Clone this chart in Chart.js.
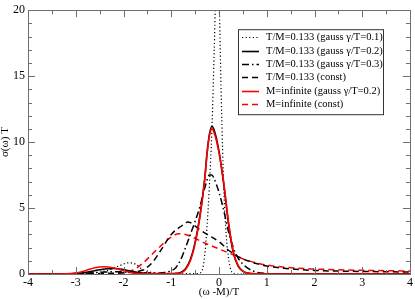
<!DOCTYPE html>
<html>
<head>
<meta charset="utf-8">
<script src="https://cdn.jsdelivr.net/npm/chart.js@4"></script>
<style>
  html, body { margin: 0; padding: 0; background: #fff; }
</style>
</head>
<body>
<canvas id="myChart" width="415" height="299"></canvas>
<script>
"use strict";

// tick labels
const xTicks = [-4, -3, -2, -1, 0, 1, 2, 3, 4];
const yTicks = [0, 5, 10, 15, 20];

const labels = [
  'T/M=0.133 (gauss \u03b3/T=0.1)',
  'T/M=0.133 (gauss \u03b3/T=0.2)',
  'T/M=0.133 (gauss \u03b3/T=0.3)',
  'T/M=0.133 (const)',
  'M=infinite (gauss \u03b3/T=0.2)',
  'M=infinite (const)'
];

// T/M=0.133, gauss gamma/T=0.1
const omegaG01 = [-4, -3, -2.6, -2.3, -2.1, -1.9, -1.75, -1.6, -1.4, -1.2, -0.8, -0.5, -0.4, -0.35, -0.3, -0.25, -0.2, -0.15, -0.1, -0.05, 0, 0.05, 0.1, 0.15, 0.2, 0.25, 0.3, 0.4, 1, 4];
const sigmaG01 = [0, 0.02, 0.1, 0.3, 0.6, 0.85, 0.75, 0.35, 0.1, 0.03, 0.02, 0.03, 0.08, 0.3, 1.4, 3.6, 6.8, 10.8, 17, 23, 21, 13, 6.5, 3, 1.2, 0.3, 0.05, 0, 0, 0];

// T/M=0.133, gauss gamma/T=0.2
const omegaG02 = [-4, -3.2, -3, -2.8, -2.6, -2.4, -2.2, -2, -1.8, -1.6, -1.4, -1.2, -1, -0.9, -0.8, -0.7, -0.6, -0.5, -0.4, -0.3, -0.25, -0.2, -0.15, -0.1, 0, 0.1, 0.2, 0.3, 0.4, 0.5, 0.6, 0.8, 1, 4];
const sigmaG02 = [0, 0.01, 0.04, 0.12, 0.25, 0.38, 0.42, 0.33, 0.18, 0.07, 0.03, 0.02, 0.03, 0.05, 0.12, 0.4, 1.1, 2.4, 4.4, 7.2, 9.2, 10.6, 11.2, 10.9, 9.3, 6.8, 3.8, 1.6, 0.6, 0.2, 0.07, 0.01, 0, 0];

// T/M=0.133, gauss gamma/T=0.3
const omegaG03 = [-4, -3, -2.5, -2.2, -2, -1.6, -1.3, -1.2, -1, -0.9, -0.8, -0.7, -0.6, -0.5, -0.4, -0.3, -0.2, -0.15, -0.1, 0, 0.1, 0.2, 0.3, 0.4, 0.5, 0.6, 0.7, 0.8, 1, 1.5, 4];
const sigmaG03 = [0, 0.03, 0.12, 0.18, 0.15, 0.08, 0.07, 0.09, 0.25, 0.5, 1.1, 2.0, 3.0, 4.0, 5.1, 6.5, 7.5, 7.5, 7.2, 6.2, 4.8, 3.2, 2.0, 1.2, 0.75, 0.45, 0.25, 0.12, 0.04, 0.01, 0];

// T/M=0.133, const
const omegaConst = [-4, -3, -2.5, -2, -1.8, -1.6, -1.4, -1.2, -1, -0.8, -0.65, -0.6, -0.4, -0.2, 0, 0.2, 0.4, 0.6, 0.8, 1, 1.4, 2, 2.5, 3, 3.5, 4];
const sigmaConst = [0, 0.01, 0.03, 0.1, 0.15, 0.3, 0.85, 1.9, 3.0, 3.6, 3.95, 3.9, 3.35, 2.9, 2.45, 1.8, 1.32, 1.0, 0.78, 0.6, 0.42, 0.27, 0.22, 0.19, 0.17, 0.15];

// M=infinite, gauss gamma/T=0.2
const omegaInfG02 = omegaG02;
const sigmaInfG02 = [0, 0.02, 0.08, 0.25, 0.48, 0.55, 0.45, 0.25, 0.08, 0.02, 0.01, 0.01, 0.01, 0.03, 0.08, 0.35, 1.0, 2.3, 4.3, 7.1, 9.1, 10.5, 11.0, 10.7, 9.2, 6.9, 3.9, 1.7, 0.65, 0.22, 0.07, 0.01, 0, 0];

// M=infinite, const
const omegaInfConst = [-4, -2.5, -2.2, -2, -1.8, -1.6, -1.4, -1.2, -1, -0.85, -0.7, -0.5, -0.3, -0.1, 0.1, 0.3, 0.5, 0.7, 1, 1.5, 2, 2.5, 3, 3.5, 4];
const sigmaInfConst = [0, 0.01, 0.04, 0.1, 0.3, 0.8, 1.5, 2.2, 2.8, 3.05, 3.0, 2.7, 2.35, 2.05, 1.75, 1.45, 1.15, 0.92, 0.68, 0.48, 0.38, 0.32, 0.28, 0.25, 0.23];

const pts = (xs, ys) => xs.map((x, i) => ({x: x, y: ys[i]}));

const line = (label, xs, ys, color, dash, width, order) => ({
  label: label,
  data: pts(xs, ys),
  borderColor: color,
  borderDash: dash,
  borderWidth: width,
  pointRadius: 0,
  fill: false,
  cubicInterpolationMode: 'monotone',
  order: order
});

const data = {
  datasets: [
    line(labels[0], omegaG01, sigmaG01, '#000', [1.2, 2.4], 1.2, 1),
    line(labels[1], omegaG02, sigmaG02, '#000', [], 1.6, 1),
    line(labels[2], omegaG03, sigmaG03, '#000', [7, 3, 1.5, 3], 1.5, 1),
    line(labels[3], omegaConst, sigmaConst, '#000', [6, 4], 1.5, 1),
    line(labels[4], omegaInfG02, sigmaInfG02, '#ff0000', [], 1.6, -1),
    line(labels[5], omegaInfConst, sigmaInfConst, '#ff0000', [6, 4], 1.5, 1)
  ]
};

const serif = "'Liberation Serif', 'Times New Roman', serif";
Chart.defaults.font.family = serif;
Chart.defaults.color = '#000';

// frame with inward major/minor ticks on all four sides
const frameTicks = {
  id: 'frameTicks',
  afterDatasetsDraw(chart) {
    const {ctx, chartArea: a, scales: {x, y}} = chart;
    ctx.save();
    ctx.strokeStyle = '#6e6e6e';
    ctx.lineWidth = 1;
    ctx.setLineDash([]);
    ctx.beginPath();
    const xs = [];
    xTicks.forEach((v, i) => {
      xs.push([v, 7]);
      if (i < xTicks.length - 1) xs.push([(v + xTicks[i + 1]) / 2, 4]);
    });
    xs.forEach(([v, len]) => {
      const px = Math.round(x.getPixelForValue(v)) + 0.5;
      ctx.moveTo(px, a.bottom); ctx.lineTo(px, a.bottom - len);
      ctx.moveTo(px, a.top); ctx.lineTo(px, a.top + len);
    });
    for (let v = yTicks[0]; v <= yTicks[yTicks.length - 1]; v += 1) {
      const len = yTicks.includes(v) ? 7 : 4;
      const py = Math.round(y.getPixelForValue(v)) + 0.5;
      ctx.moveTo(a.left, py); ctx.lineTo(a.left + len, py);
      ctx.moveTo(a.right, py); ctx.lineTo(a.right - len, py);
    }
    ctx.stroke();
    ctx.strokeRect(Math.round(a.left) + 0.5, Math.round(a.top) + 0.5,
      Math.round(a.right - a.left), Math.round(a.bottom - a.top));
    ctx.restore();
  }
};

// boxed legend inside the plot, upper right
const boxLegend = {
  id: 'boxLegend',
  afterDraw(chart) {
    const {ctx, chartArea: a} = chart;
    const left = a.right - 172, top = a.top + 19, w = 145, h = 85;
    ctx.save();
    ctx.fillStyle = '#fff';
    ctx.fillRect(left, top, w, h);
    ctx.strokeStyle = '#333';
    ctx.lineWidth = 1;
    ctx.strokeRect(left + 0.5, top + 0.5, w, h);
    ctx.font = '10.5px ' + serif;
    ctx.textBaseline = 'middle';
    ctx.textAlign = 'left';
    chart.data.datasets.forEach((ds, i) => {
      const ry = Math.round(top + 8 + i * 13.4) + 0.5;
      ctx.strokeStyle = ds.borderColor;
      ctx.lineWidth = ds.borderWidth;
      ctx.setLineDash(ds.borderDash);
      ctx.beginPath();
      ctx.moveTo(left + 4, ry);
      ctx.lineTo(left + 21, ry);
      ctx.stroke();
      ctx.setLineDash([]);
      ctx.fillStyle = '#000';
      ctx.fillText(ds.label, left + 28, ry);
    });
    ctx.restore();
  }
};

const config = {
  type: 'line',
  data: data,
  options: {
    responsive: false,
    animation: false,
    devicePixelRatio: 1,
    layout: { padding: { top: 5, right: 3, left: 0, bottom: 0 } },
    plugins: {
      legend: { display: false },
      tooltip: { enabled: false }
    },
    scales: {
      x: {
        type: 'linear',
        min: -4,
        max: 4,
        grid: { display: false, drawTicks: false },
        border: { display: false },
        afterBuildTicks: s => { s.ticks = xTicks.map(v => ({value: v})); },
        afterFit: s => { s.height = 25; },
        ticks: { padding: 2, color: '#000', maxRotation: 0, autoSkip: false, font: { family: serif, size: 12 } },
        title: { display: true, text: '(\u03c9 -M)/T', color: '#000', padding: 0, font: { family: serif, size: 11 } }
      },
      y: {
        min: 0,
        max: 20,
        grid: { display: false, drawTicks: false },
        border: { display: false },
        afterBuildTicks: s => { s.ticks = yTicks.map(v => ({value: v})); },
        afterFit: s => { s.width = 28; },
        ticks: { padding: 3, color: '#000', font: { family: serif, size: 12 } },
        title: { display: true, text: '\u03c3(\u03c9) T', color: '#000', padding: 0, font: { family: serif, size: 11, lineHeight: 1 } }
      }
    }
  },
  plugins: [frameTicks, boxLegend]
};

const myChart = new Chart(document.getElementById('myChart'), config);
</script>
</body>
</html>
